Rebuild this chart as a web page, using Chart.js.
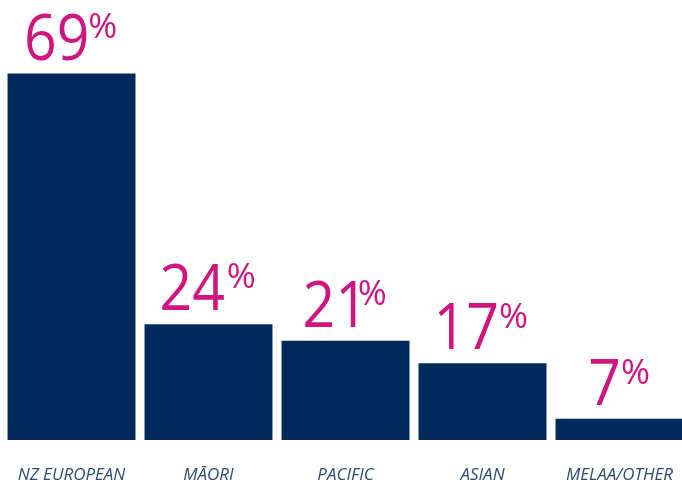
<!DOCTYPE html>
<html>
<head>
<meta charset="utf-8">
<script src="https://cdn.jsdelivr.net/npm/chart.js@4"></script>
<style>
html,body{margin:0;padding:0;background:#fff;overflow:hidden;width:682px;height:484px;}
#wrap{position:absolute;left:0;top:0;width:692px;height:484px;}
</style>
</head>
<body>
<div id="wrap"><canvas id="c" width="692" height="484"></canvas></div>
<script>
const categories = ["NZ EUROPEAN", "MĀORI", "PACIFIC", "ASIAN", "MELAA/OTHER"];
const shares = [69, 24, 21, 17, 7];
const valueLabels = ["69", "24", "21", "17", "7"];

const NAVY = "#002a5c";
const PINK = "#cf1580";

const labelPlugin = {
  id: "pctLabels",
  afterDatasetsDraw(chart) {
    const ctx = chart.ctx;
    const meta = chart.getDatasetMeta(0);
    const sx = 0.9, gap = 3;
    const DIGIT_H = 47, PCT_H = 26;
    // size fonts so the inked heights match the design
    ctx.save();
    ctx.font = "100px 'Open Sans'";
    const d100 = ctx.measureText("0").actualBoundingBoxAscent;
    const p100m = ctx.measureText("%");
    const p100 = p100m.actualBoundingBoxAscent + p100m.actualBoundingBoxDescent;
    ctx.restore();
    const bigSize = 100 * DIGIT_H / d100;
    const smallSize = 100 * PCT_H / p100;
    const bigFont = bigSize.toFixed(1) + "px 'Open Sans'";
    const smallFont = smallSize.toFixed(1) + "px 'Open Sans'";
    meta.data.forEach((el, i) => {
      ctx.save();
      ctx.fillStyle = PINK;
      ctx.textBaseline = "alphabetic";
      ctx.font = bigFont;
      const mNum = ctx.measureText(valueLabels[i]);
      const numL = mNum.actualBoundingBoxLeft * sx;
      const numR = mNum.actualBoundingBoxRight * sx;
      const numTop = mNum.actualBoundingBoxAscent;
      ctx.font = smallFont;
      const mPct = ctx.measureText("%");
      const pctL = mPct.actualBoundingBoxLeft;
      const pctR = mPct.actualBoundingBoxRight;
      const pctA = mPct.actualBoundingBoxAscent;
      const inkW = (numR + numL) + gap + (pctR + pctL);
      const inkStart = el.x - inkW / 2;
      const base = el.y - 14;
      ctx.save();
      ctx.translate(inkStart + numL, base);
      ctx.scale(sx, 1);
      ctx.font = bigFont;
      ctx.fillText(valueLabels[i], 0, 0);
      ctx.restore();
      ctx.font = smallFont;
      const pctX = inkStart + numL + numR + gap + pctL;
      ctx.fillText("%", pctX, base - numTop + pctA);
      ctx.restore();
    });
  }
};

new Chart(document.getElementById("c"), {
  type: "bar",
  data: {
    labels: categories,
    datasets: [{
      data: shares,
      backgroundColor: NAVY,
      borderWidth: 0,
      barPercentage: 0.934,
      categoryPercentage: 1.0
    }]
  },
  options: {
    responsive: false,
    animation: false,
    events: [],
    layout: { padding: { left: 3, right: 4, top: 0, bottom: 0 } },
    plugins: { legend: { display: false }, tooltip: { enabled: false } },
    scales: {
      x: {
        grid: { display: false, drawTicks: false },
        border: { display: false },
        afterFit(scale) {
          scale.height = 44;
          scale.paddingLeft = 0;
          scale.paddingRight = 0;
        },
        ticks: {
          color: "#2e4a70",
          font: { family: "'Open Sans'", size: 17, style: "italic" },
          padding: 25,
          maxRotation: 0,
          autoSkip: false
        }
      },
      y: {
        display: false,
        min: 3.2,
        max: 82.2
      }
    }
  },
  plugins: [labelPlugin]
});
</script>
</body>
</html>
